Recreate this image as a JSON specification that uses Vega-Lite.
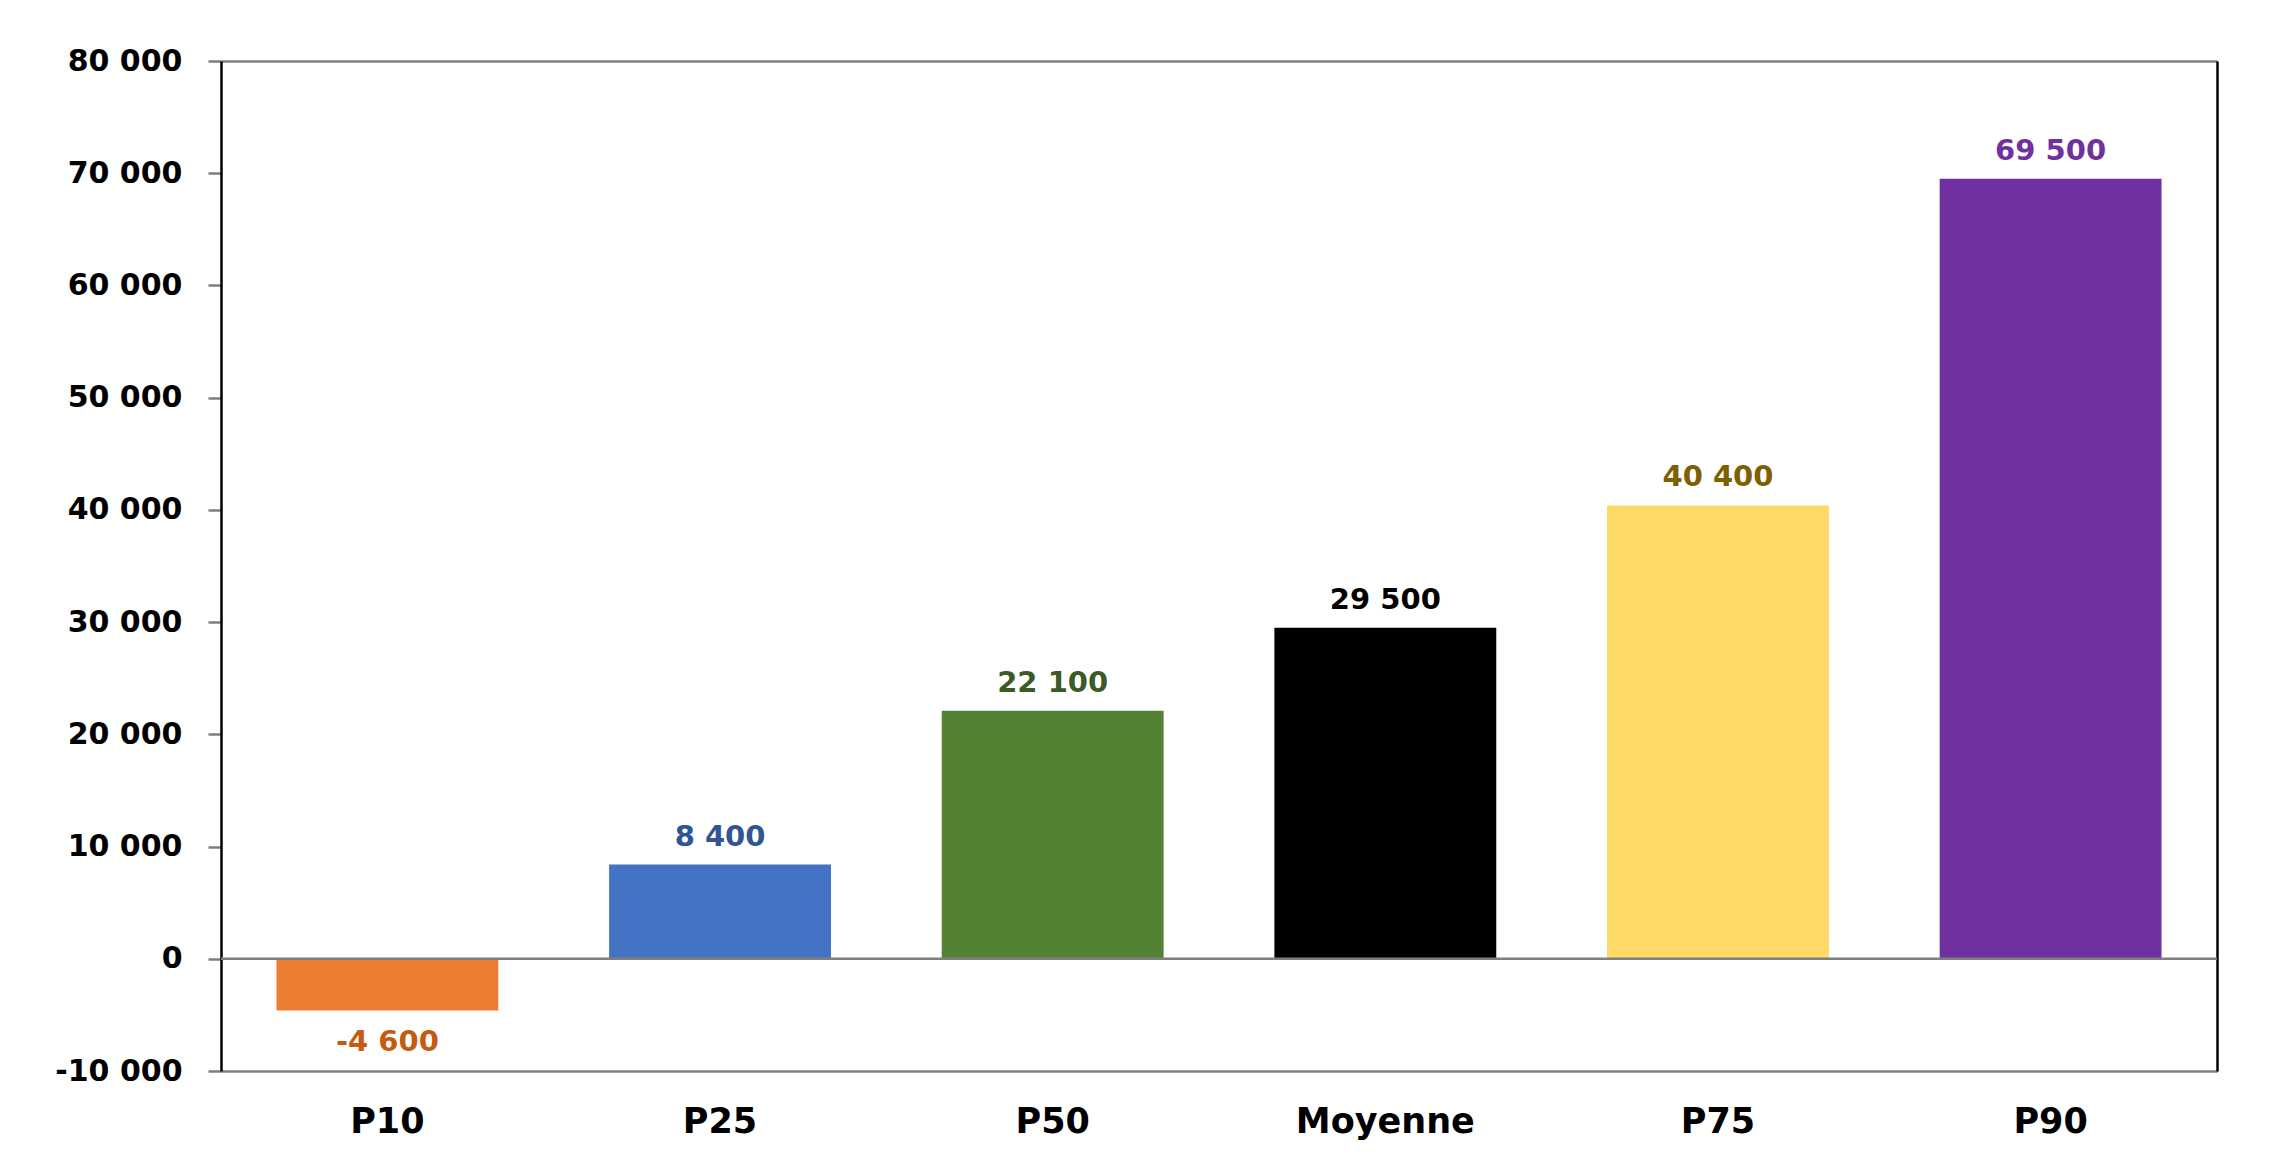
{
  "$schema": "https://vega.github.io/schema/vega-lite/v6.json",
  "width": 1996,
  "height": 1010,
  "autosize": "none",
  "padding": {"left": 221, "top": 61, "right": 68, "bottom": 84},
  "background": "white",
  "config": {"view": {"stroke": null}, "font": "DejaVu Sans"},
  "data": {"values": [
    {"cat": "P10", "value": -4600, "label": "-4 600"},
    {"cat": "P25", "value": 8400, "label": "8 400"},
    {"cat": "P50", "value": 22100, "label": "22 100"},
    {"cat": "Moyenne", "value": 29500, "label": "29 500"},
    {"cat": "P75", "value": 40400, "label": "40 400"},
    {"cat": "P90", "value": 69500, "label": "69 500"}
  ]},
  "resolve": {"scale": {"color": "independent"}, "axis": {"y": "independent"}},
  "layer": [
    {
      "mark": {"type": "bar"},
      "encoding": {
        "x": {"field": "cat", "type": "nominal", "sort": null,
          "scale": {"paddingInner": 0.333, "paddingOuter": 0.1667},
          "axis": {"title": null, "domain": false, "ticks": false, "labelAngle": 0,
            "labelFontSize": 35, "labelFontWeight": "bold", "labelColor": "#000000",
            "labelPadding": 33, "labelFont": "DejaVu Sans"}},
        "y": {"field": "value", "type": "quantitative",
          "scale": {"domain": [-10000, 80000], "nice": false, "zero": false},
          "axis": {"title": null, "values": [-10000, 0, 10000, 20000, 30000, 40000, 50000, 60000, 70000, 80000],
            "labelExpr": "datum.value < 0 ? '-' + replace(format(-datum.value, ','), ',', ' ') : replace(format(datum.value, ','), ',', ' ')",
            "labelFontSize": 30, "labelFontWeight": "bold", "labelColor": "#000000", "labelFont": "DejaVu Sans",
            "labelPadding": 26, "tickSize": 13, "tickColor": "#7f7f7f", "tickWidth": 2.5,
            "domainColor": "#000000", "domainWidth": 2.5,
            "grid": true, "gridColor": "#7f7f7f", "gridWidth": 2.5,
            "gridOpacity": {"condition": {"test": "datum.value == -10000 || datum.value == 80000", "value": 1}, "value": 0}}},
        "color": {"field": "cat", "type": "nominal", "legend": null,
          "scale": {"domain": ["P10", "P25", "P50", "Moyenne", "P75", "P90"],
            "range": ["#ED7D31", "#4472C4", "#548235", "#000000", "#FFD966", "#7030A0"]}}
      }
    },
    {
      "data": {"values": [{"zero": 0}]},
      "mark": {"type": "rule", "color": "#7f7f7f", "strokeWidth": 2.5},
      "encoding": {
        "y": {"field": "zero", "type": "quantitative", "axis": null}
      }
    },
    {
      "transform": [{"filter": "datum.value >= 0"}],
      "mark": {"type": "text", "baseline": "alphabetic", "dy": -19, "fontSize": 29, "fontWeight": "bold", "font": "DejaVu Sans"},
      "encoding": {
        "x": {"field": "cat", "type": "nominal", "sort": null},
        "y": {"field": "value", "type": "quantitative",
          "axis": {"orient": "right", "title": null, "labels": false, "ticks": false, "grid": false,
            "domainColor": "#000000", "domainWidth": 2.5}},
        "text": {"field": "label"},
        "color": {"field": "cat", "type": "nominal", "legend": null,
          "scale": {"domain": ["P10", "P25", "P50", "Moyenne", "P75", "P90"],
            "range": ["#C55A11", "#2F5597", "#3A5A27", "#000000", "#7F6000", "#7030A0"]}}
      }
    },
    {
      "transform": [{"filter": "datum.value < 0"}],
      "mark": {"type": "text", "baseline": "alphabetic", "dy": 41, "fontSize": 29, "fontWeight": "bold", "font": "DejaVu Sans"},
      "encoding": {
        "x": {"field": "cat", "type": "nominal", "sort": null},
        "y": {"field": "value", "type": "quantitative", "axis": null},
        "text": {"field": "label"},
        "color": {"field": "cat", "type": "nominal", "legend": null,
          "scale": {"domain": ["P10", "P25", "P50", "Moyenne", "P75", "P90"],
            "range": ["#C55A11", "#2F5597", "#3A5A27", "#000000", "#7F6000", "#7030A0"]}}
      }
    }
  ]
}
